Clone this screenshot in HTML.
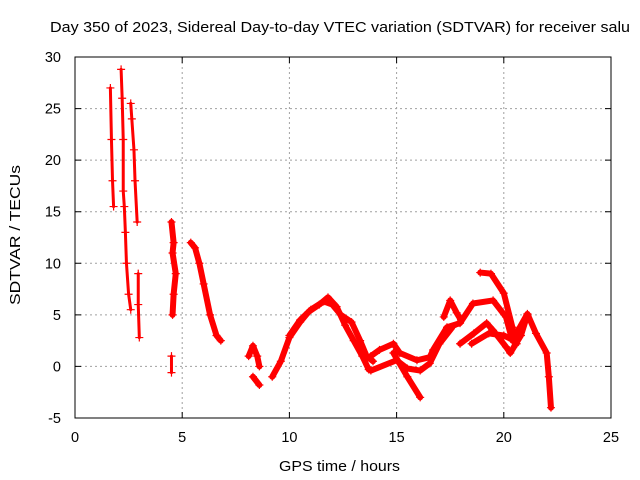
<!DOCTYPE html>
<html><head><meta charset="utf-8"><style>
body{margin:0;background:#fff;}
svg{display:block;font-family:"Liberation Sans",sans-serif;}
</style></head><body>
<svg id="chart" width="640" height="480" viewBox="0 0 640 480">
<text x="50" y="32" font-size="15" textLength="580" lengthAdjust="spacingAndGlyphs">Day 350 of 2023, Sidereal Day-to-day VTEC variation (SDTVAR) for receiver salu</text>
<g id="grid"></g>
<g id="axes"></g>
<g id="series"></g>
<rect x="75" y="57" width="536" height="361" fill="none" stroke="#000" stroke-width="1"/>
<text x="279" y="471" font-size="15" textLength="121" lengthAdjust="spacingAndGlyphs">GPS time / hours</text>
<text transform="translate(20,305) rotate(-90)" font-size="15" textLength="140" lengthAdjust="spacingAndGlyphs">SDTVAR / TECUs</text>
</svg>
<script>
const xTicks=[0,5,10,15,20,25];
const yTicks=[-5,0,5,10,15,20,25,30];
const trace1=[[1.65,27],[1.7,22],[1.75,18],[1.8,15.5]];
const trace2=[[2.15,28.8],[2.2,26],[2.25,22],[2.25,17],[2.3,15.5],[2.35,13],[2.4,10],[2.5,7],[2.6,5.5]];
const trace3=[[2.6,25.5],[2.65,24],[2.75,21],[2.8,18],[2.9,14]];
const trace4=[[2.95,9],[2.95,6],[3.0,2.8]];
const trace5=[[4.5,14],[4.6,12],[4.55,11],[4.7,9],[4.6,7],[4.55,5]];
const trace6=[[4.5,1],[4.5,-0.6]];
const trace7=[[5.4,12],[5.6,11.5],[5.8,10],[6.0,8],[6.3,5],[6.6,3],[6.8,2.5]];
const trace8=[[8.1,1],[8.3,2],[8.5,1],[8.6,0]];
const trace9=[[8.3,-1],[8.6,-1.8]];
const traceA=[[9.2,-1],[9.6,0.5],[10,2.8],[10.5,4.3],[10.9,5.3],[11.4,6],[11.8,6.7],[12.2,5.8],[12.6,4],[13,2.5],[13.4,1],[13.7,-0.3]];
const traceB=[[10.0,3],[10.5,4.5],[11,5.5],[11.6,6.3],[12,6],[12.4,5],[12.9,4.3],[13.3,2.5],[13.6,1],[13.9,0.5]];
const traceC=[[13.8,1],[14.2,1.6],[14.85,2.2],[15.15,1.3],[15.95,0.6],[16.55,0.9],[16.7,1.6],[17.35,3.8],[17.96,4.2],[18.56,6.1],[19.5,6.4],[20.1,4.8],[20.4,2.5],[21.1,5.1],[21.5,3.2],[22,1.3],[22.1,-1],[22.2,-4]];
const traceD=[[13.8,-0.4],[15.0,0.6],[15.5,-0.2],[16.1,-0.4],[16.55,0.3],[17.0,2.2],[17.6,3.8]];
const traceE=[[14.85,1.3],[15.5,-1],[16.1,-3.0]];
const traceF=[[17.2,4.8],[17.5,6.4],[17.8,5.2],[18.0,4.5]];
const traceG=[[17.96,2.2],[18.6,3.2],[19.2,4.2],[19.5,3.5],[20.1,1.9],[20.3,1.3],[20.8,3],[21.1,5]];
const traceH=[[18.9,9.1],[19.4,9],[20,7.1],[20.4,3.8],[20.6,2.2]];
const traceI=[[18.5,2.2],[19.3,3.2],[20,3],[20.5,2.5]];
const traces=[trace1,trace2,trace3,trace4,trace5,trace6,trace7,trace8,trace9,traceA,traceB,traceC,traceD,traceE,traceF,traceG,traceH,traceI];
const thinTraces=[0,1,2,3,5];

const NS='http://www.w3.org/2000/svg';
const X0=75,X1=611,Y0=418,Y1=57,XMIN=0,XMAX=25,YMIN=-5,YMAX=30;
const sx=v=>X0+(v-XMIN)/(XMAX-XMIN)*(X1-X0);
const sy=v=>Y0-(v-YMIN)/(YMAX-YMIN)*(Y0-Y1);
function mk(tag,attrs,parent){const e=document.createElementNS(NS,tag);for(const k in attrs)e.setAttribute(k,attrs[k]);parent.appendChild(e);return e;}
const grid=document.getElementById('grid'),axes=document.getElementById('axes'),ser=document.getElementById('series');
xTicks.forEach(t=>{
  const x=sx(t);
  if(t>XMIN&&t<XMAX){const g=mk('line',{x1:x,y1:Y1,x2:x,y2:Y0,stroke:'#a0a0a0','stroke-dasharray':'2,3'},grid);
  
  }
  const tk=mk('path',{d:`M${x},${Y0}v-6M${x},${Y1}v6`,stroke:'#000'},axes);
  
  
  const l=mk('text',{x:x,y:Y0+24,'font-size':'14.5','text-anchor':'middle'},axes);l.textContent=t;
  
  
});
yTicks.forEach(t=>{
  const y=sy(t);
  if(t>YMIN&&t<YMAX){const g=mk('line',{x1:X0,y1:y,x2:X1,y2:y,stroke:'#a0a0a0','stroke-dasharray':'2,3'},grid);
  
  }
  const tk=mk('path',{d:`M${X0},${y}h6M${X1},${y}h-6`,stroke:'#000'},axes);
  
  
  const l=mk('text',{x:X0-14,y:y+5,'font-size':'14.5','text-anchor':'end'},axes);l.textContent=t;
  
  
});
traces.forEach((tr,i)=>{
  const w=thinTraces.includes(i)?'3':'6';
  const p=mk('polyline',{points:tr.map(d=>sx(d[0])+','+sy(d[1])).join(' '),fill:'none',stroke:'#f00','stroke-width':w,'stroke-linejoin':'round','stroke-linecap':'round'},ser);
  
  
  tr.forEach(d=>{
    const m=mk('path',{d:`M${sx(d[0])-4},${sy(d[1])}h8M${sx(d[0])},${sy(d[1])-4}v8`,stroke:'#f00','stroke-width':'1.2'},ser);
    
    
  });
});
</script>
</body></html>
